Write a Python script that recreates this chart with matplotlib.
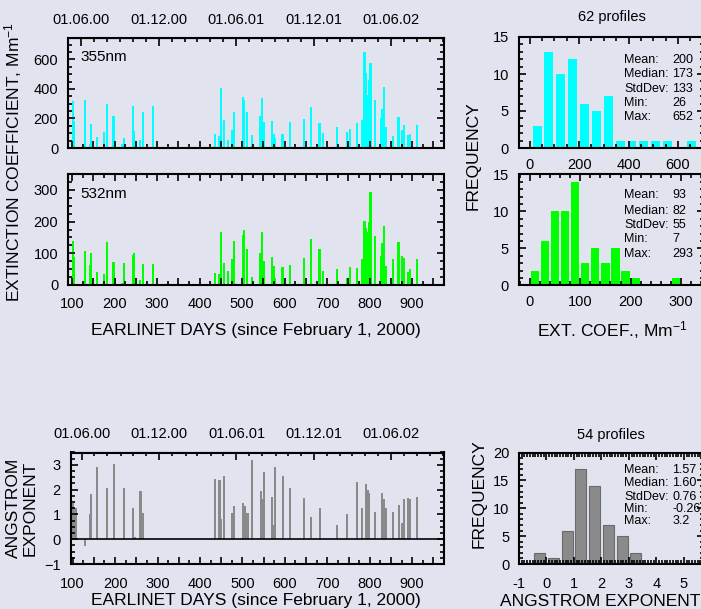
import matplotlib
matplotlib.use("Agg")
import matplotlib.pyplot as plt
from matplotlib.ticker import MultipleLocator, FixedLocator
from datetime import date

plt.rcParams['font.family'] = ['Liberation Sans', 'DejaVu Sans']
plt.rcParams['mathtext.default'] = 'regular'

# --- extinction profiles (EARLINET days since 1 Feb 2000) ---
days_ext = [101, 105, 130, 141, 144, 158, 174, 182, 197, 217, 221, 242, 246, 260, 266, 290,
            436, 446, 450, 457, 467, 476, 480, 501, 505, 512, 523, 543, 547, 551, 570, 574,
            577, 595, 613, 646, 662,
            682, 690, 723, 746, 753, 770, 781, 788, 792, 796, 799, 802, 813, 826, 829, 834,
            839, 855, 868, 876, 880, 890, 894, 911]
ext_355 = [317, 181, 322, 26, 165, 75, 107, 297, 215, 30, 70, 285, 113, 57, 247, 283,
           98, 80, 403, 188, 52, 120, 247, 344, 324, 245, 90, 215, 337, 177, 181, 98,
           68, 93, 177, 195, 276,
           172, 104, 143, 111, 127, 170, 188, 652, 507, 358, 460, 573, 328, 202, 267, 410,
           143, 84, 213, 120, 154, 86, 93, 156]
ext_532 = [139, 89, 107, 63, 100, 42, 35, 136, 72, 7, 69, 94, 100, 16, 66, 66,
           37, 35, 166, 68, 44, 81, 140, 158, 172, 114, 24, 100, 166, 76, 87, 61,
           21, 56, 62, 85, 146,
           113, 44, 49, 21, 58, 53, 83, 202, 179, 168, 198, 293, 155, 92, 131, 186,
           60, 82, 137, 92, 86, 42, 50, 82]

# --- Angstrom exponent ---
days_ang = [101, 105, 108, 130, 142, 144, 158, 182, 197, 221, 242, 246, 260, 266,
            436, 446, 450, 457, 476, 480, 501, 505, 512, 523, 543, 547, 551, 570, 574,
            577, 595, 613,
            646, 662, 682, 723, 746, 770, 781, 792, 796, 799, 813, 829, 834, 839, 855,
            868, 876, 880, 890, 894, 911]
angstrom = [1.47, 1.24, 1.24, -0.26, 1.01, 1.82, 2.93, 2.07, 3.03, 2.05, 1.28, 0.09, 1.95, 1.04,
            2.43, 2.39, 0.82, 2.55, 1.04, 1.34, 1.47, 1.34, 1.07, 3.20, 1.95, 1.61, 2.73, 1.72, 0.57,
            2.93, 2.55, 2.05,
            1.65, 0.88, 1.28, 0.59, 1.01, 2.32, 1.24, 2.23, 1.99, 1.85, 1.11, 1.88, 1.61, 1.28, 1.08,
            1.38, 0.64, 1.62, 1.65, 1.62, 1.69]

# --- frequency distributions ---
hist355_centers = [30, 78, 126, 174, 222, 270, 318, 366, 414, 462, 510, 558, 654]
hist355_counts = [3, 13, 10, 12, 6, 5, 7, 1, 1, 1, 1, 1, 1]
hist532_centers = [10, 30, 50, 70, 90, 110, 130, 150, 170, 190, 210, 290]
hist532_counts = [2, 6, 10, 10, 14, 3, 5, 3, 5, 2, 1, 1]
histang_centers = [-0.25, 0.25, 0.75, 1.25, 1.75, 2.25, 2.75, 3.25]
histang_counts = [2, 1, 6, 17, 14, 7, 5, 2]

stat_names = ['Mean:', 'Median:', 'StdDev:', 'Min:', 'Max:']
stats355 = ['200', '173', '133', '26', '652']
stats532 = ['93', '82', '55', '7', '293']
statsang = ['1.57', '1.60', '0.76', '-0.26', '3.2']

date_labels = ['01.06.00', '01.12.00', '01.06.01', '01.12.01', '01.06.02']
date_ticks = [date(2000, 6, 1), date(2000, 12, 1), date(2001, 6, 1),
              date(2001, 12, 1), date(2002, 6, 1)]

BG = '#e1e4ef'
CYAN = '#00ffff'
GREEN = '#00ff00'
GREY = '#8a8a8a'
W, H = 701, 609
T0 = date(2000, 2, 1)

fig = plt.figure(figsize=(W / 100, H / 100), dpi=100, facecolor=BG)


def px_axes(left, top, right, bottom):
    ax = fig.add_axes([left / W, 1 - bottom / H, (right - left) / W, (bottom - top) / H])
    ax.set_facecolor(BG)
    for s in ax.spines.values():
        s.set_linewidth(1.5)
    ax.tick_params(which='both', direction='in', top=True, right=True,
                   width=1.2, labelsize=10.5, pad=7)
    ax.tick_params(which='major', length=5)
    ax.tick_params(which='minor', length=3)
    return ax


def label(x, y, s, **kw):
    fig.text(x / W, 1 - y / H, s, ha='center', va='center', fontsize=12.5, **kw)


def add_dates(ax):
    months = [(date(y, m, 1) - T0).days for y in (2000, 2001, 2002) for m in range(1, 13)]
    sec = ax.secondary_xaxis('top')
    sec.set_xticks([(d - T0).days for d in date_ticks], labels=date_labels)
    sec.xaxis.set_minor_locator(FixedLocator(months))
    sec.tick_params(which='both', direction='in', width=1.2, labelsize=10.5, pad=8)
    sec.tick_params(which='major', length=6)
    sec.tick_params(which='minor', length=3)
    ax.tick_params(which='both', top=False)


def series_axis(ax, xlim):
    ax.set_xlim(*xlim)
    ax.xaxis.set_major_locator(MultipleLocator(50))
    ax.xaxis.set_minor_locator(MultipleLocator(25))
    ax.xaxis.set_major_formatter(lambda v, p: f'{int(v)}' if v % 100 == 0 else '')
    ax.tick_params(axis='x', pad=9)


def stats_box(rows_y, values):
    for y, name, val in zip(rows_y, stat_names, values):
        fig.text(624 / W, 1 - y / H, name, fontsize=9, va='center')
        fig.text(672.5 / W, 1 - y / H, val, fontsize=9, va='center')


# 355 nm time series
ax1 = px_axes(68, 38, 444, 148)
ax1.bar(days_ext, ext_355, width=5, color=CYAN, linewidth=0)
series_axis(ax1, (90, 975))
ax1.tick_params(axis='x', labelbottom=False)
ax1.set_ylim(0, 745)
ax1.yaxis.set_major_locator(MultipleLocator(200))
ax1.yaxis.set_minor_locator(MultipleLocator(50))
add_dates(ax1)
ax1.text(0.032, 0.83, '355nm', fontsize=11, va='center', transform=ax1.transAxes)

# 532 nm time series
ax2 = px_axes(68, 174, 444, 285)
ax2.bar(days_ext, ext_532, width=5, color=GREEN, linewidth=0)
series_axis(ax2, (90, 975))
ax2.set_ylim(0, 350)
ax2.yaxis.set_major_locator(MultipleLocator(100))
ax2.yaxis.set_minor_locator(MultipleLocator(25))
ax2.text(0.032, 0.82, '532nm', fontsize=11, va='center', transform=ax2.transAxes)

# Angstrom exponent time series
ax3 = px_axes(70.5, 452.5, 444, 564)
ax3.bar(days_ang, angstrom, width=5, color=GREY, linewidth=0)
ax3.axhline(0, color='black', linewidth=1.2)
series_axis(ax3, (95, 975))
ax3.set_ylim(-1, 3.5)
ax3.yaxis.set_major_locator(MultipleLocator(1))
ax3.yaxis.set_minor_locator(MultipleLocator(0.25))
add_dates(ax3)

# histograms
ax4 = px_axes(518.5, 37, 704, 148)
ax4.bar(hist355_centers, hist355_counts, width=36, color=CYAN, linewidth=0)
ax4.set_xlim(-45, 705)
ax4.set_ylim(0, 15)
ax4.xaxis.set_major_locator(MultipleLocator(200))
ax4.xaxis.set_minor_locator(MultipleLocator(50))
ax4.yaxis.set_major_locator(MultipleLocator(5))
ax4.yaxis.set_minor_locator(MultipleLocator(1))
stats_box([60, 74.3, 88.5, 102.8, 117.2], stats355)

ax5 = px_axes(518.5, 174.5, 704, 285.5)
ax5.bar(hist532_centers, hist532_counts, width=16.5, color=GREEN, linewidth=0)
ax5.set_xlim(-22, 345)
ax5.set_ylim(0, 15)
ax5.xaxis.set_major_locator(MultipleLocator(100))
ax5.xaxis.set_minor_locator(MultipleLocator(20))
ax5.yaxis.set_major_locator(MultipleLocator(5))
ax5.yaxis.set_minor_locator(MultipleLocator(1))
stats_box([195, 210.5, 225, 239.5, 254], stats532)

ax6 = px_axes(519, 452.5, 704, 564)
ax6.bar(histang_centers, histang_counts, width=0.4, color=GREY,
        edgecolor='#6a6a6a', linewidth=0.8)
ax6.set_xlim(-1, 5.73)
ax6.set_ylim(0, 20)
ax6.xaxis.set_major_locator(MultipleLocator(1))
ax6.xaxis.set_minor_locator(MultipleLocator(0.1))
ax6.yaxis.set_major_locator(MultipleLocator(5))
ax6.yaxis.set_minor_locator(MultipleLocator(1))
ax6.xaxis.set_major_formatter(lambda v, p: f'{v:g}')
ax6.tick_params(axis='x', pad=9)
stats_box([470, 483.3, 496.6, 509.5, 521], statsang)

# axis titles
label(13, 162, 'EXTINCTION COEFFICIENT, Mm$^{-1}$', rotation=90)
label(255.5, 330, 'EARLINET DAYS (since February 1, 2000)')
label(22, 508, 'ANGSTROM\nEXPONENT', rotation=90, linespacing=1.15)
label(255.5, 601, 'EARLINET DAYS (since February 1, 2000)')
label(473, 156, 'FREQUENCY', rotation=90)
label(479, 494, 'FREQUENCY', rotation=90)
label(612, 330, 'EXT. COEF., Mm$^{-1}$')
label(600, 601, 'ANGSTROM EXPONENT')
fig.text(611.5 / W, 1 - 17 / H, '62 profiles', ha='center', va='center', fontsize=10.5)
fig.text(611 / W, 1 - 435 / H, '54 profiles', ha='center', va='center', fontsize=10.5)

fig.savefig('out.png', dpi=100, facecolor=BG)
